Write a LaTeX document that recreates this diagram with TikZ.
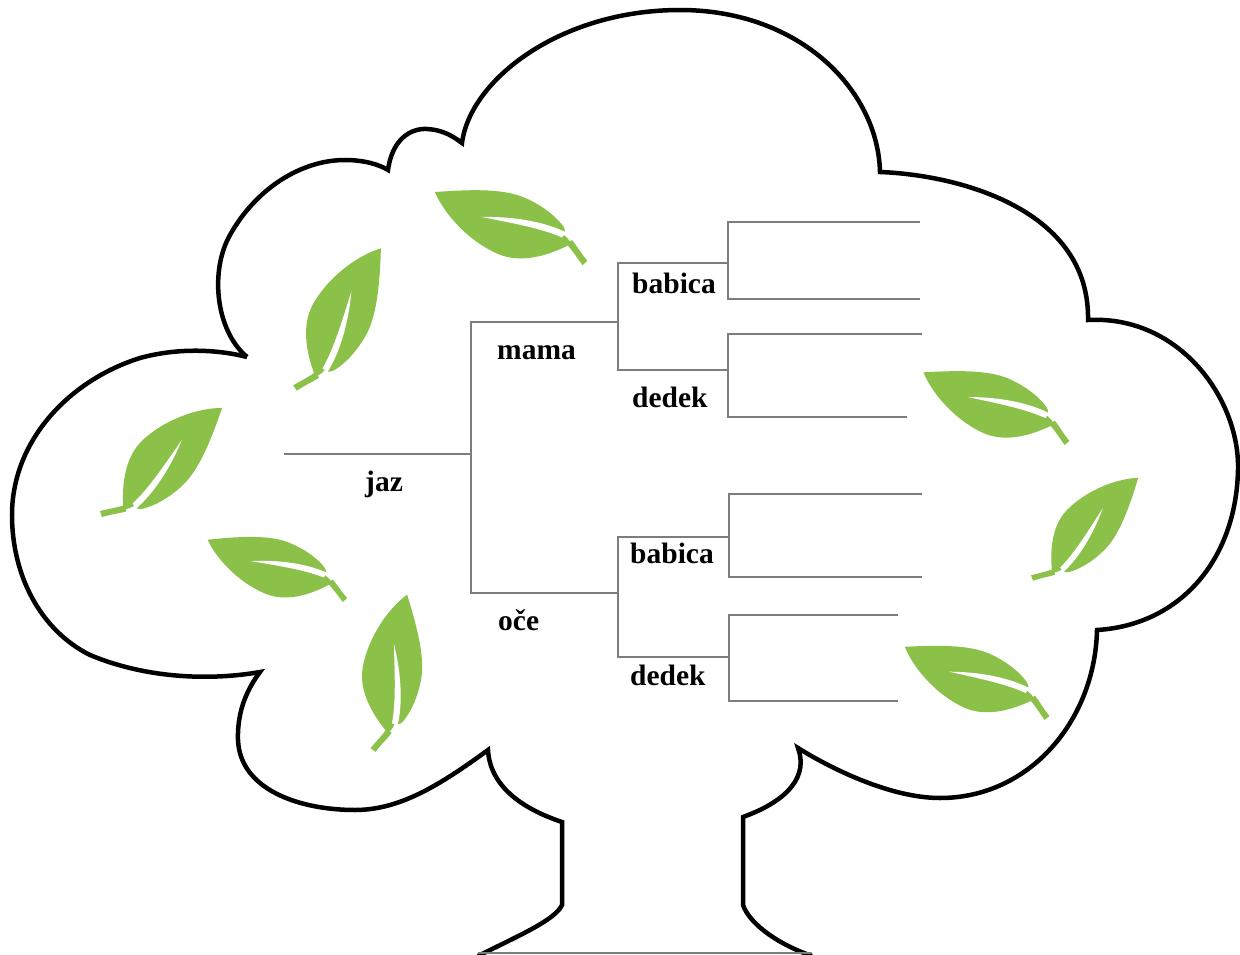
\documentclass[tikz,border=0pt]{standalone}
\usepackage{fontspec}
\setmainfont{Liberation Serif}
\definecolor{leafgreen}{RGB}{139,193,73}
\definecolor{linegray}{RGB}{125,125,125}
\tikzset{
  outline/.style={draw=black, line width=4.5pt},
  branch/.style={draw=linegray, line width=2pt},
  lbl/.style={font=\fontsize{29.5}{30}\selectfont\bfseries, inner sep=0pt, anchor=base west},
  leaf/.pic={
    % blade
    \fill[leafgreen] (0.125,0.068) .. controls (0.2,-0.03) and (0.33,-0.17) .. (0.5,-0.175)
       .. controls (0.7,-0.18) and (0.9,-0.09) .. (1,0)
       .. controls (0.85,0.085) and (0.65,0.195) .. (0.5,0.2)
       .. controls (0.36,0.205) and (0.26,0.17) .. (0.215,0.145)
       .. controls (0.185,0.128) and (0.185,0.105) .. (0.2,0.1)
       .. controls (0.17,0.095) and (0.14,0.085) .. (0.125,0.068) -- cycle;
    % stem
    \fill[leafgreen] (0.008,-0.018) .. controls (0.06,0.01) and (0.1,0.035) .. (0.15,0.056)
       -- (0.13,0.092) .. controls (0.085,0.07) and (0.045,0.042) .. (-0.008,0.018) -- cycle;
    % vein
    \fill[white] (0.68,-0.015) .. controls (0.5,0.075) and (0.32,0.12) .. (0.185,0.118)
       -- (0.19,0.08) .. controls (0.32,0.078) and (0.5,0.03) .. (0.68,-0.015) -- cycle;
  }
}
\begin{document}
\begin{tikzpicture}[x=1pt,y=-1pt]
\useasboundingbox (0,0) rectangle (1240,955);
\fill[white] (0,0) rectangle (1240,955);

% tree outline
\draw[outline]
  (247,357) .. controls (215,330) and (210,270) .. (230,235)
  .. controls (255,190) and (300,160) .. (345,160)
  .. controls (365,160) and (380,165) .. (388,170)
  .. controls (392,140) and (410,128) .. (427,129)
  .. controls (445,130) and (455,138) .. (462,143)
  .. controls (470,80) and (560,10) .. (680,10)
  .. controls (800,10) and (878,90) .. (880,172)
  .. controls (960,175) and (1090,210) .. (1088,320)
  .. controls (1180,315) and (1240,400) .. (1238,470)
  .. controls (1236,560) and (1180,625) .. (1097,630)
  .. controls (1095,720) and (1030,798) .. (940,798)
  .. controls (890,798) and (830,768) .. (798,748)
  .. controls (808,775) and (790,800) .. (743,817)
  -- (743,905)
  .. controls (750,925) and (780,945) .. (812,956);
\draw[outline]
  (478,956) .. controls (520,935) and (555,920) .. (562,905)
  -- (562,822)
  .. controls (520,808) and (490,785) .. (488,750)
  .. controls (440,785) and (400,810) .. (355,810)
  .. controls (300,810) and (240,790) .. (238,740)
  .. controls (237,710) and (248,688) .. (260,672)
  .. controls (215,680) and (150,680) .. (90,655)
  .. controls (40,630) and (12,575) .. (12,515)
  .. controls (12,440) and (70,380) .. (140,358)
  .. controls (180,347) and (220,350) .. (247,357);
\draw[linegray, line width=1.5pt] (478,953) -- (812,953);

% leaves
\pic[rotate=154.7, scale=166] at (585,263) {leaf};
\pic[rotate=58.4, scale=164] at (295,388) {leaf};
\pic[rotate=41.2, scale=161] at (101,514) {leaf};
\pic[rotate=156.3, scale=150] at (345,600) {leaf};
\pic[rotate=77.6, scale=159] at (373,750) {leaf};
\pic[rotate=153.8, scale=160] at (1067,443) {leaf};
\pic[rotate=43.3, scale=146] at (1032,578) {leaf};
\pic[rotate=153.4, scale=159] at (1047,718) {leaf};

% labels
\node[lbl] (jaz) at (365,491) {jaz};
\node[lbl] (mama) at (497,359) {mama};
\node[lbl] (oce) at (498,630) {oče};
\node[lbl] (bab1) at (632,293) {babica};
\node[lbl] (ded1) at (632,407) {dedek};
\node[lbl] (bab2) at (630,563) {babica};
\node[lbl] (ded2) at (630,685) {dedek};

% coordinates of the branch lines
\coordinate (j1) at (284,454);
\coordinate (j2) at (471,454);
\coordinate (m1) at (471,322);
\coordinate (m2) at (618,322);
\coordinate (o1) at (471,593);
\coordinate (o2) at (618,593);
\coordinate (b1a) at (618,263);
\coordinate (b1b) at (728,263);
\coordinate (d1a) at (618,370);
\coordinate (d1b) at (728,370);
\coordinate (b2a) at (618,537);
\coordinate (b2b) at (729,537);
\coordinate (d2a) at (618,657);
\coordinate (d2b) at (729,657);
\coordinate (g1) at (920,222);
\coordinate (g2) at (920,299);
\coordinate (g3) at (922,334);
\coordinate (g4) at (907,417);
\coordinate (g5) at (922,494);
\coordinate (g6) at (922,577);
\coordinate (g7) at (898,615);
\coordinate (g8) at (898,701);

\draw[branch] (j1) -- (j2);
\draw[branch] (m2) -- (m1) -- (o1) -- (o2);
\draw[branch] (b1b) -- (b1a) -- (d1a) -- (d1b);
\draw[branch] (b2b) -- (b2a) -- (d2a) -- (d2b);
\draw[branch] (g1) -| (b1b) |- (g2);
\draw[branch] (g3) -| (d1b) |- (g4);
\draw[branch] (g5) -| (b2b) |- (g6);
\draw[branch] (g7) -| (d2b) |- (g8);
\end{tikzpicture}
\end{document}
